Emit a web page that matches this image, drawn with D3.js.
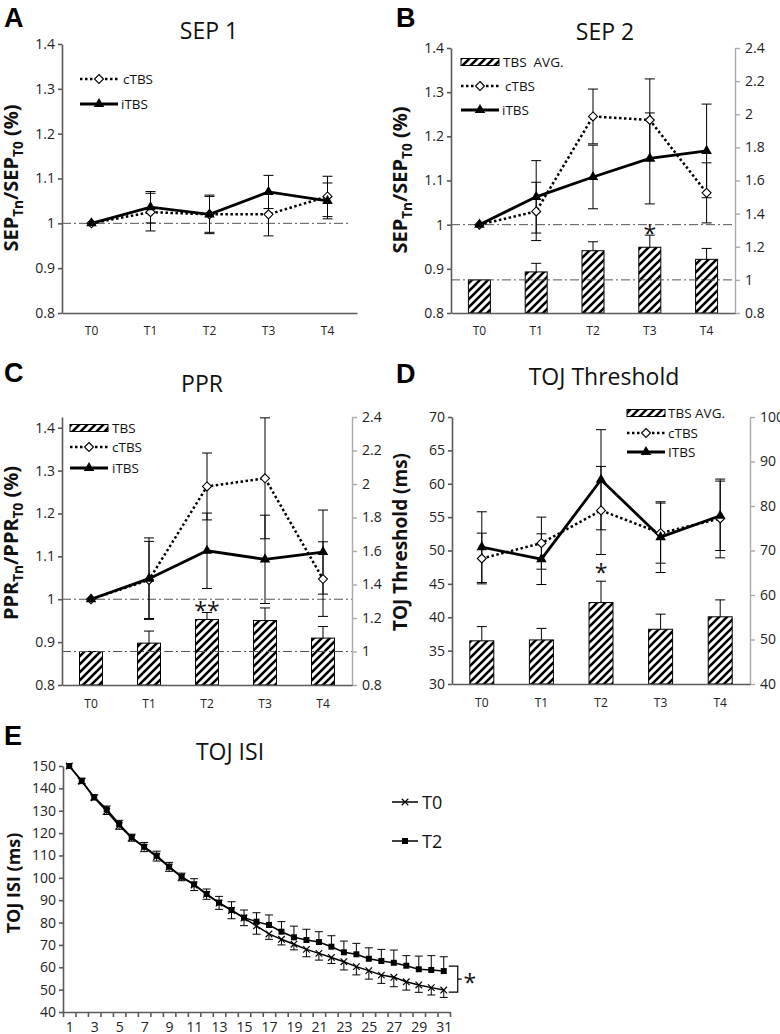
<!DOCTYPE html>
<html><head><meta charset="utf-8">
<script src="https://cdn.jsdelivr.net/npm/d3@7"></script>
<style>body{margin:0;background:#fff}</style>
</head><body><svg id="c" width="780" height="1034" style="display:block;background:#fff"></svg>
<script>
// ---------------- DATA ----------------
const tPoints = ["T0","T1","T2","T3","T4"];
const ratioTicks = [0.8,0.9,1,1.1,1.2,1.3,1.4];
const ratioTicksRight = [0.8,1,1.2,1.4,1.6,1.8,2,2.2,2.4];
const tojTicks = [30,35,40,45,50,55,60,65,70];
const tojTicksRight = [40,50,60,70,80,90,100];

// A: SEP 1
const sep1C    = [1.0, 1.025, 1.02, 1.02, 1.06];
const sep1CErr = [0, 0.042, 0.040, 0.048, 0.045];
const sep1I    = [1.0, 1.036, 1.02, 1.07, 1.05];
const sep1IErr = [0, 0.035, 0.043, 0.037, 0.040];

// B: SEP 2
const sep2C      = [1.0, 1.03, 1.245, 1.237, 1.072];
const sep2CErr   = [0, 0.066, 0.062, 0.093, 0.068];
const sep2I      = [1.0, 1.063, 1.108, 1.15, 1.167];
const sep2IErr   = [0, 0.082, 0.072, 0.103, 0.106];
const sep2Avg    = [1.0, 1.048, 1.176, 1.197, 1.124];
const sep2AvgErr = [0, 0.052, 0.054, 0.073, 0.066];
const sep2Sig    = ["", "", "", "*", ""];

// C: PPR
const pprC      = [1.0, 1.045, 1.263, 1.282, 1.047];
const pprCErr   = [0, 0.090, 0.078, 0.141, 0.087];
const pprI      = [1.0, 1.048, 1.113, 1.093, 1.11];
const pprIErr   = [0, 0.095, 0.088, 0.103, 0.098];
const pprAvg    = [1.0, 1.05, 1.191, 1.185, 1.08];
const pprAvgErr = [0, 0.072, 0.042, 0.075, 0.069];
const pprSig    = ["", "", "**", "", ""];

// D: TOJ Threshold
const tojC      = [48.8, 51.1, 56.0, 52.6, 54.8];
const tojCErr   = [3.8, 3.9, 6.6, 4.5, 5.9];
const tojI      = [50.5, 48.7, 60.6, 52.0, 55.2];
const tojIErr   = [5.3, 3.8, 7.5, 5.3, 5.2];
const tojAvg    = [49.7, 49.9, 58.3, 52.3, 55.1];
const tojAvgErr = [3.2, 2.6, 4.8, 3.4, 3.8];
const tojSig    = ["", "", "*", "", ""];

// E: TOJ ISI
const isiSteps = [1,2,3,4,5,6,7,8,9,10,11,12,13,14,15,16,17,18,19,20,21,22,23,24,25,26,27,28,29,30,31];
const isiTickLabels = [1,3,5,7,9,11,13,15,17,19,21,23,25,27,29,31];
const isiYTicks = [40,50,60,70,80,90,100,110,120,130,140,150];
const isiT2    = [150,143.4,136.1,130.6,124.1,118.1,113.9,109.9,105.0,100.5,97.1,92.8,88.9,85.6,82.2,80.4,78.9,75.9,73.4,72.2,71.3,69.2,66.7,65.8,63.8,62.8,62.0,60.7,59.1,58.8,58.3];
const isiT2Err = [0,1.1,1.0,1.5,1.6,1.4,1.9,2.0,1.9,1.6,2.5,2.2,2.8,3.7,3.4,4.0,4.5,4.5,5.0,4.8,4.6,4.9,5.0,4.9,4.9,5.2,5.7,4.5,5.9,6.4,6.4];
const isiT0    = [150,143.2,135.8,129.8,123.3,117.8,113.6,109.5,104.8,100.3,96.8,92.6,88.7,85.4,82.0,78.5,74.9,72.5,70.3,68.0,66.2,64.4,62.5,60.3,58.5,56.5,55.5,53.5,52.1,50.9,49.8];
const isiT0Err = [0,1.1,1.0,1.5,1.6,1.4,1.9,2.0,1.9,1.6,2.5,2.2,2.8,3.7,3.4,3.7,2.4,2.5,2.5,3.3,3.0,2.7,3.7,3.7,3.8,3.7,4.2,3.7,3.3,3.3,3.3];

// ---------------- DRAWING ----------------
const FONT = "'Open Sans','Noto Sans','DejaVu Sans',sans-serif";
const svg = d3.select("#c");
const defs = svg.append("defs");
const pat = defs.append("pattern").attr("id","hatch").attr("patternUnits","userSpaceOnUse")
  .attr("width",8).attr("height",8);
pat.append("rect").attr("width",8).attr("height",8).attr("fill","#fff");
pat.append("path").attr("d","M-2,2 L2,-2 M0,8 L8,0 M6,10 L10,6").attr("stroke","#000").attr("stroke-width",2.6);

function styleAxis(a, color, w, fs) {
  a.attr("font-family", FONT).attr("font-size", fs || 14);
  a.select(".domain").attr("stroke", color).attr("stroke-width", w);
  a.selectAll(".tick line").attr("stroke", color).attr("stroke-width", w);
  a.selectAll(".tick text").attr("fill", "#222");
}
function fmt(d){ return String(+d.toFixed(2)); }

function errSym(g, x, yLo, yHi, cap) {
  g.append("line").attr("x1",x).attr("x2",x).attr("y1",yLo).attr("y2",yHi).attr("stroke","#000").attr("stroke-width",1);
  [yLo,yHi].forEach(yy => g.append("line").attr("x1",x-cap/2).attr("x2",x+cap/2).attr("y1",yy).attr("y2",yy).attr("stroke","#000").attr("stroke-width",1));
}
function errOne(g, x, y0, y1, cap) {
  g.append("line").attr("x1",x).attr("x2",x).attr("y1",y0).attr("y2",y1).attr("stroke","#000").attr("stroke-width",1);
  g.append("line").attr("x1",x-cap/2).attr("x2",x+cap/2).attr("y1",y1).attr("y2",y1).attr("stroke","#000").attr("stroke-width",1);
}
function diamond(g, x, y, r) {
  g.append("path").attr("d",`M${x},${y-r}L${x+r},${y}L${x},${y+r}L${x-r},${y}Z`)
    .attr("fill","#fff").attr("stroke","#000").attr("stroke-width",1.1);
}
function triangle(g, x, y) {
  g.append("path").attr("transform",`translate(${x},${y})`)
    .attr("d", d3.symbol(d3.symbolTriangle, 48)()).attr("fill","#000");
}
function yLabel(g, x, y, parts, size) {
  const t = g.append("text").attr("transform",`translate(${x},${y}) rotate(-90)`)
    .attr("text-anchor","middle").attr("font-weight","bold").attr("font-size",size)
    .attr("font-family",FONT).attr("fill","#111").style("white-space","pre");
  parts.forEach(p => {
    const ts = t.append("tspan").text(p.t);
    if (p.sub) ts.attr("font-size", size*0.68).attr("dy", size*0.24);
    if (p.after) ts.attr("dy", -size*0.24);
  });
}
function label(g, txt, x, y, opts) {
  opts = opts || {};
  return g.append("text").attr("x",x).attr("y",y).text(txt)
    .attr("font-family", opts.font || FONT).attr("font-size", opts.size || 13)
    .attr("font-weight", opts.weight || "normal").attr("text-anchor", opts.anchor || "start")
    .attr("fill", opts.fill || "#111").attr("dominant-baseline", opts.baseline || "auto")
    .style("white-space","pre");
}

function legend(g, L) {
  L.rows.forEach(r => {
    if (r.type === "avg") {
      g.append("rect").attr("x",L.x1).attr("y",r.y-3.5).attr("width",L.x2-L.x1).attr("height",7)
        .attr("fill","url(#hatch)").attr("stroke","#000").attr("stroke-width",1);
    } else if (r.type === "c") {
      g.append("line").attr("x1",L.x1).attr("x2",L.x2).attr("y1",r.y).attr("y2",r.y)
        .attr("stroke","#000").attr("stroke-width",2.5).attr("stroke-dasharray","2.5,2.5");
      diamond(g, (L.x1+L.x2)/2, r.y, 4.5);
    } else {
      g.append("line").attr("x1",L.x1).attr("x2",L.x2).attr("y1",r.y).attr("y2",r.y)
        .attr("stroke","#000").attr("stroke-width",2.8);
      triangle(g, (L.x1+L.x2)/2, r.y);
    }
    label(g, r.label, r.lx || L.lx, r.y, {baseline:"central", size:13.5});
  });
}

function tbsPanel(p) {
  const g = svg.append("g");
  const x = d3.scaleBand().domain(tPoints).range([p.left, p.right]);
  const cx = d => x(d) + x.bandwidth()/2;
  const y = d3.scaleLinear().domain(p.yDomain).range([p.bottom, p.top]);
  const y2 = p.y2Domain ? d3.scaleLinear().domain(p.y2Domain).range([p.bottom, p.top2]) : null;

  // bars (right axis)
  if (p.avg) {
    const bw = p.barWidth;
    g.selectAll("rect.bar").data(p.avg).join("rect").attr("class","bar")
      .attr("x",(d,i)=>cx(tPoints[i])-bw/2).attr("y",d=>y2(d))
      .attr("width",bw).attr("height",d=>p.bottom-y2(d))
      .attr("fill","url(#hatch)").attr("stroke","#000").attr("stroke-width",1);
    p.avg.forEach((v,i)=>{ if (p.avgErr[i]>0) errOne(g, cx(tPoints[i]), y2(v), y2(v+p.avgErr[i]), 10); });
    p.sig.forEach((s,i)=>{ if (s) label(g, s, cx(tPoints[i]), y2(p.avg[i]+p.avgErr[i]) + p.sigDy, {anchor:"middle", size:23}); });
  }
  // reference lines
  const refStyle = l => l.attr("stroke","#555").attr("stroke-width",1).attr("stroke-dasharray","9,3,2,3");
  if (p.refLeft != null) refStyle(g.append("line").attr("x1",p.left).attr("x2",p.refEnd).attr("y1",y(p.refLeft)).attr("y2",y(p.refLeft)));
  if (p.refRight != null) refStyle(g.append("line").attr("x1",p.left).attr("x2",p.refEnd).attr("y1",y2(p.refRight)).attr("y2",y2(p.refRight)));

  // axes
  const ay = g.append("g").attr("transform",`translate(${p.left},0)`)
    .call(d3.axisLeft(y).tickValues(p.yTicks).tickSize(4).tickSizeOuter(0).tickPadding(3).tickFormat(fmt));
  styleAxis(ay, "#5a5a5a", 1.6);
  if (y2) {
    const ay2 = g.append("g").attr("transform",`translate(${p.right},0)`)
      .call(d3.axisRight(y2).tickValues(p.y2Ticks).tickSize(5).tickSizeOuter(0).tickPadding(5).tickFormat(fmt));
    styleAxis(ay2, "#aaaaaa", 1.4);
  }
  const ax = g.append("g").attr("transform",`translate(0,${p.bottom})`)
    .call(d3.axisBottom(x).tickSize(0).tickPadding(p.xPad));
  styleAxis(ax, "#5a5a5a", 1.6, 12);

  // error bars for lines
  p.c.forEach((v,i)=>{ if (p.cErr[i]>0) errSym(g, cx(tPoints[i]), y(v-p.cErr[i]), y(v+p.cErr[i]), 10); });
  p.i.forEach((v,i)=>{ if (p.iErr[i]>0) errSym(g, cx(tPoints[i]), y(v-p.iErr[i]), y(v+p.iErr[i]), 10); });

  // lines
  const line = d3.line().x((d,i)=>cx(tPoints[i])).y(d=>y(d));
  g.append("path").attr("d", line(p.c)).attr("fill","none").attr("stroke","#000")
    .attr("stroke-width",2.5).attr("stroke-dasharray","2.5,2.5");
  g.append("path").attr("d", line(p.i)).attr("fill","none").attr("stroke","#000").attr("stroke-width",2.8);
  p.c.forEach((v,i)=>diamond(g, cx(tPoints[i]), y(v), 4.5));
  p.i.forEach((v,i)=>triangle(g, cx(tPoints[i]), y(v)));

  // texts
  label(g, p.letter, p.letterPos[0], p.letterPos[1], {font:"'Liberation Sans',Arial,sans-serif", size:27, weight:"bold", fill:"#000"});
  label(g, p.title, p.titlePos[0], p.titlePos[1], {anchor:"middle", size:23});
  yLabel(g, p.ylabelPos[0], p.ylabelPos[1], p.ylabel, p.ylabelSize);
  legend(g, p.legend);
}

const sepLabel = [{t:"SEP"},{t:"Tn",sub:true},{t:"/SEP",after:true},{t:"T0",sub:true},{t:" (%)",after:true}];
const pprLabel = [{t:"PPR"},{t:"Tn",sub:true},{t:"/PPR",after:true},{t:"T0",sub:true},{t:" (%)",after:true}];

tbsPanel({letter:"A", letterPos:[4,27], title:"SEP 1", titlePos:[209,39],
  left:62, right:357, top:44, bottom:313, yDomain:[0.8,1.4], yTicks:ratioTicks, xPad:13,
  c:sep1C, cErr:sep1CErr, i:sep1I, iErr:sep1IErr, refLeft:1, refEnd:351,
  ylabel:sepLabel, ylabelPos:[18,178], ylabelSize:20,
  legend:{x1:80, x2:118, lx:123, rows:[{type:"c",y:79,label:"cTBS"},{type:"i",y:104,label:"iTBS",lx:121}]}});

tbsPanel({letter:"B", letterPos:[396,27], title:"SEP 2", titlePos:[605,40],
  left:451, right:735, top:48, top2:48, bottom:313, yDomain:[0.8,1.4], yTicks:ratioTicks,
  y2Domain:[0.8,2.4], y2Ticks:ratioTicksRight, xPad:13,
  c:sep2C, cErr:sep2CErr, i:sep2I, iErr:sep2IErr, avg:sep2Avg, avgErr:sep2AvgErr, sig:sep2Sig, sigDy:7, barWidth:22,
  refLeft:1, refRight:1, refEnd:735,
  ylabel:sepLabel, ylabelPos:[407,180], ylabelSize:20,
  legend:{x1:461, x2:499, lx:503, rows:[{type:"avg",y:62,label:"TBS  AVG."},{type:"c",y:86,label:"cTBS",lx:505},{type:"i",y:110,label:"iTBS",lx:502}]}});

tbsPanel({letter:"C", letterPos:[4,382], title:"PPR", titlePos:[202,392],
  left:62, right:352, top:417, top2:417, bottom:685, yDomain:[0.8,1.425], yTicks:ratioTicks,
  y2Domain:[0.8,2.4], y2Ticks:ratioTicksRight, xPad:14,
  c:pprC, cErr:pprCErr, i:pprI, iErr:pprIErr, avg:pprAvg, avgErr:pprAvgErr, sig:pprSig, sigDy:7, barWidth:23,
  refLeft:1, refRight:1, refEnd:352,
  ylabel:pprLabel, ylabelPos:[18,543], ylabelSize:20,
  legend:{x1:70, x2:108, lx:112, rows:[{type:"avg",y:428,label:"TBS"},{type:"c",y:447,label:"cTBS"},{type:"i",y:468,label:"iTBS"}]}});

tbsPanel({letter:"D", letterPos:[396,383], title:"TOJ Threshold", titlePos:[604,385],
  left:452, right:750, top:417, top2:417, bottom:684, yDomain:[30,70], yTicks:tojTicks,
  y2Domain:[40,100], y2Ticks:tojTicksRight, xPad:14,
  c:tojC, cErr:tojCErr, i:tojI, iErr:tojIErr, avg:tojAvg, avgErr:tojAvgErr, sig:tojSig, sigDy:0, barWidth:24,
  refEnd:750,
  ylabel:[{t:"TOJ Threshold (ms)"}], ylabelPos:[407,542], ylabelSize:19,
  legend:{x1:627, x2:665, lx:668, rows:[{type:"avg",y:413,label:"TBS AVG."},{type:"c",y:433,label:"cTBS"},{type:"i",y:452,label:"ITBS"}]}});

// ---------------- Panel E ----------------
(function(){
  const g = svg.append("g");
  const x = d3.scaleLinear().domain([0.5,31.5]).range([63,450]);
  const y = d3.scaleLinear().domain([40,150]).range([1012,766]);
  const ay = g.append("g").attr("transform","translate(63,0)")
    .call(d3.axisLeft(y).tickValues(isiYTicks).tickSize(4).tickSizeOuter(0).tickPadding(3));
  styleAxis(ay, "#5a5a5a", 1.6);
  const tickMarks = isiSteps.map(s=>s-0.5).concat([isiSteps[isiSteps.length-1]+0.5]);
  const ax = g.append("g").attr("transform","translate(0,1012)")
    .call(d3.axisBottom(x).tickValues(tickMarks).tickSize(5).tickSizeOuter(0).tickFormat(""));
  styleAxis(ax, "#5a5a5a", 1.6);
  const ax2 = g.append("g").attr("transform","translate(0,1012)")
    .call(d3.axisBottom(x).tickValues(isiTickLabels).tickSize(0).tickPadding(10));
  styleAxis(ax2, "#5a5a5a", 1.6);
  ax2.select(".domain").remove();

  isiSteps.forEach((s,i)=>{
    if (isiT2Err[i]>0) errOne(g, x(s), y(isiT2[i]), y(isiT2[i]+isiT2Err[i]), 8);
    if (isiT0Err[i]>0) errOne(g, x(s), y(isiT0[i]), y(isiT0[i]-isiT0Err[i]), 8);
  });
  const line = d3.line().x((d,i)=>x(isiSteps[i])).y(d=>y(d));
  g.append("path").attr("d",line(isiT0)).attr("fill","none").attr("stroke","#000").attr("stroke-width",1.5);
  g.append("path").attr("d",line(isiT2)).attr("fill","none").attr("stroke","#000").attr("stroke-width",1.5);
  const sq = d3.symbol(d3.symbolSquare, 36)();
  const tm = d3.symbol(d3.symbolTimes, 30)();
  isiT0.forEach((v,i)=>g.append("path").attr("transform",`translate(${x(isiSteps[i])},${y(v)})`).attr("d",tm).attr("fill","none").attr("stroke","#000").attr("stroke-width",1.2));
  isiT2.forEach((v,i)=>g.append("path").attr("transform",`translate(${x(isiSteps[i])},${y(v)})`).attr("d",sq).attr("fill","#000"));

  // bracket + star
  const last = isiSteps.length-1;
  const bx = x(isiSteps[last]) + 5, yTop = y(isiT2[last]) - 5, yBot = y(isiT0[last]) + 2;
  g.append("path").attr("d",`M${bx},${yTop}H${bx+9}V${yBot}H${bx}M${bx+9},${(yTop+yBot)/2}H${bx+13}`)
    .attr("fill","none").attr("stroke","#000").attr("stroke-width",1.2);
  label(g, "*", bx+21, (yTop+yBot)/2 + 12, {anchor:"middle", size:23});

  // legend
  [{y:802,label:"T0",m:tm,fill:"none"},{y:841,label:"T2",m:sq,fill:"#000"}].forEach(r=>{
    g.append("line").attr("x1",392).attr("x2",418).attr("y1",r.y).attr("y2",r.y).attr("stroke","#000").attr("stroke-width",1.5);
    g.append("path").attr("transform",`translate(405,${r.y})`).attr("d",r.m).attr("fill",r.fill).attr("stroke","#000").attr("stroke-width", r.fill==="none"?1.2:0);
    label(g, r.label, 422, r.y, {baseline:"central", size:18});
  });

  label(g, "E", 4, 745, {font:"'Liberation Sans',Arial,sans-serif", size:27, weight:"bold", fill:"#000"});
  label(g, "TOJ ISI", 230, 760, {anchor:"middle", size:23});
  yLabel(g, 20, 883, [{t:"TOJ ISI (ms)"}], 18);
})();
</script></body></html>
